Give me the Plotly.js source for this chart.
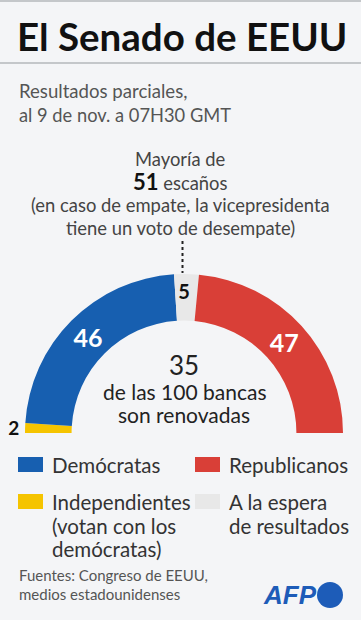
<!DOCTYPE html>
<html>
<head>
<meta charset="utf-8">
<script src="https://cdn.plot.ly/plotly-3.0.1.min.js"></script>
<style>
html,body{margin:0;padding:0;background:#f4f5f7;}
#chart{width:361px;height:620px;}
</style>
</head>
<body>
<div id="chart"></div>
<script>
// ---- data ----
const parties = ["Independientes", "Demócratas", "A la espera de resultados", "Republicanos"];
const seats = [2, 46, 5, 47];
const colors = ["#f5c400", "#175fb0", "#e8e8e8", "#d93f37"];
const totalSeats = 100;
const majority = 51;
const renewed = 35;

const W = 361, H = 620;
const px = x => x / W;
const py = y => 1 - y / H;
const FONT = "Lato, 'Noto Sans', sans-serif";

// pie with hidden lower half
const values = seats.concat([totalSeats]);
const sliceColors = colors.concat(["rgba(0,0,0,0)"]);
const textpos = ["outside", "inside", "inside", "inside", "none"];
const textcol = ["#111", "#ffffff", "#111", "#ffffff", "rgba(0,0,0,0)"];
const textsize = [19, 25, 20, 25, 1];

const trace = {
  type: "pie",
  values: values,
  labels: parties.concat(["_"]),
  text: seats.map(String).concat([""]),
  textinfo: "text",
  textposition: textpos,
  insidetextorientation: "horizontal",
  textfont: {color: textcol, size: textsize, family: FONT, weight: 700},
  marker: {colors: sliceColors, line: {width: 0}},
  sort: false,
  direction: "clockwise",
  rotation: -90,
  hole: 0.707,
  hoverinfo: "none",
  showlegend: false,
  domain: {x: [px(25), px(343)], y: [py(592), py(274)]}
};

const ann = [];
function t(text, x, y, size, opts) {
  ann.push(Object.assign({
    text: text, x: px(x), y: py(y), xref: "paper", yref: "paper",
    showarrow: false, xanchor: "left", yanchor: "middle",
    font: {family: FONT, size: size, color: "#444"}
  }, opts || {}));
}
// title & subtitle
t("<b>El Senado de EEUU</b>", 15, 36, 38.5, {font: {family: FONT, size: 38.5, color: "#111"}});
t("Resultados parciales,", 17, 91, 18.6, {font: {family: FONT, size: 18.6, color: "#555"}});
t("al 9 de nov. a 07H30 GMT", 17, 115, 18.3, {font: {family: FONT, size: 18.3, color: "#555"}});
// majority text
const mf = 18.4;
t("Mayoría de", 180, 159, mf, {xanchor: "center"});
t("<b><span style='font-size:22px;color:#111'>" + majority + "</span></b> escaños", 180, 181, mf, {xanchor: "center"});
t("(en caso de empate, la vicepresidenta", 180, 205, mf, {xanchor: "center"});
t("tiene un voto de desempate)", 180, 228, mf, {xanchor: "center"});
// centre text
t(String(renewed), 184, 365, 26, {xanchor: "center", font: {family: FONT, size: 26, color: "#222"}});
t("de las " + totalSeats + " bancas", 184, 391, 21, {xanchor: "center", font: {family: FONT, size: 21, color: "#222"}});
t("son renovadas", 184, 414, 21, {xanchor: "center", font: {family: FONT, size: 21, color: "#222"}});
// legend
const lg = {family: FONT, size: 20.5, color: "#333"};
t(parties[1], 50, 465, 20.5, {font: lg});
t(parties[3], 227, 465, 20.5, {font: lg});
t(parties[0], 50, 502, 20.5, {font: lg});
t("(votan con los", 50, 526, 20.5, {font: lg});
t("demócratas)", 50, 549, 20.5, {font: lg});
t("A la espera", 227, 502, 20.5, {font: lg});
t("de resultados", 227, 526, 20.5, {font: lg});
// sources
const sf = {family: FONT, size: 15, color: "#555"};
t("Fuentes: Congreso de EEUU,", 17, 575, 15, {font: sf});
t("medios estadounidenses", 17, 594, 15, {font: sf});
// AFP
t("<b><i>AFP</i></b>", 261, 595, 26, {font: {family: "'Liberation Sans', Arial, sans-serif", size: 26, color: "#1d5cb8"}});

function rect(x0, y0, x1, y1, c) {
  return {type: "rect", xref: "paper", yref: "paper", x0: px(x0), x1: px(x1), y0: py(y1), y1: py(y0),
    fillcolor: c, line: {width: 0}, layer: "above"};
}
const shapes = [
  {type: "line", xref: "paper", yref: "paper", x0: 0, x1: 1, y0: py(1), y1: py(1), line: {color: "#b5b7bb", width: 1.5}},
  {type: "line", xref: "paper", yref: "paper", x0: 0, x1: 1, y0: py(63), y1: py(63), line: {color: "#b5b7bb", width: 1.5}},
  {type: "line", xref: "paper", yref: "paper", x0: px(182.5), x1: px(182.5), y0: py(241), y1: py(273), line: {color: "#222", width: 2, dash: "dot"}},
  rect(18, 457, 43, 472, colors[1]),
  rect(195, 457, 220, 472, colors[3]),
  rect(18, 494, 43, 509, colors[0]),
  rect(195, 494, 220, 509, colors[2]),
  {type: "circle", xref: "paper", yref: "paper", x0: px(317), x1: px(343), y0: py(608), y1: py(582), fillcolor: "#1d5cb8", line: {width: 0}}
];

const layout = {
  width: W, height: H,
  margin: {l: 0, r: 0, t: 0, b: 0},
  paper_bgcolor: "#f4f5f7",
  plot_bgcolor: "#f4f5f7",
  showlegend: false,
  annotations: ann,
  shapes: shapes,
  font: {family: FONT}
};

Plotly.newPlot("chart", [trace], layout, {displayModeBar: false, staticPlot: true});
</script>
</body>
</html>
